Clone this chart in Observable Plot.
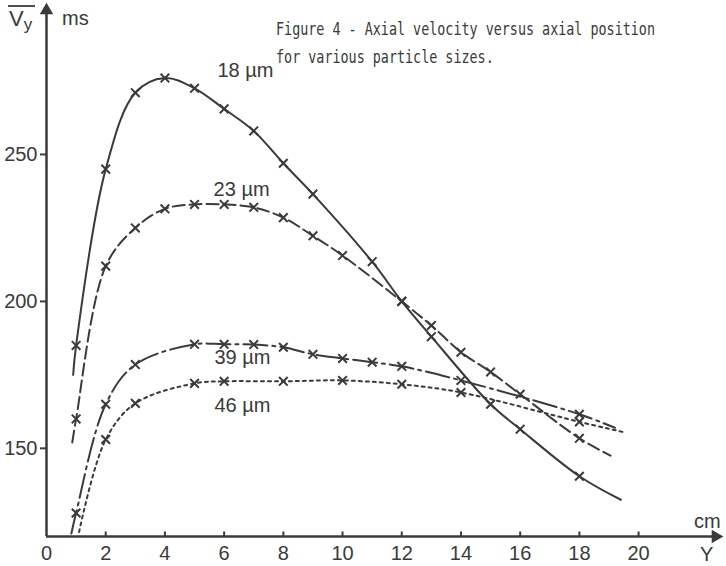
<!DOCTYPE html>
<html><head><meta charset="utf-8">
<script src="https://cdn.jsdelivr.net/npm/d3@7"></script>
<script src="https://cdn.jsdelivr.net/npm/@observablehq/plot@0.6"></script>
<style>body{margin:0;background:#fff}</style>
</head><body><div id="chart"></div>
<script>
// ---- data ----
const sizes = ["18 µm", "23 µm", "39 µm", "46 µm"];

const x18 = [1, 2, 3, 4, 5, 6, 7, 8, 9, 11, 12, 13, 15, 16, 18];
const v18 = [185, 245, 271, 276, 272.5, 265.5, 258, 247, 236.5, 213.5, 200, 188, 165, 156.5, 140.5];
const start18 = [0.9, 175], end18 = [19.4, 132.5];

const x23 = [1, 2, 3, 4, 5, 6, 7, 8, 9, 10, 12, 13, 14, 15, 16, 18];
const v23 = [160, 212, 225, 231.5, 233, 233, 232, 228.5, 222.3, 215.6, 200, 191.8, 182.7, 176, 168.4, 153.4];
const start23 = [0.87, 152], end23 = [19.05, 147.5];

const x39 = [1, 2, 3, 5, 6, 7, 8, 9, 10, 11, 12, 14, 18];
const v39 = [128, 165, 178.5, 185.4, 185.4, 185.3, 184.4, 182, 180.6, 179.3, 177.9, 173.1, 161.6];
const start39 = [0.84, 121], end39 = [19.2, 157];

const x46 = [2, 3, 5, 6, 8, 10, 12, 14, 18];
const v46 = [153, 165.3, 172.1, 172.8, 172.8, 173.1, 171.8, 169, 159];
const start46 = [1.1, 121.5], end46 = [19.5, 155.5];

const labelX = [6.72, 6.59, 6.62, 6.62];
const labelV = [278.5, 238.1, 180.8, 164.6];

const xTicks = [0, 2, 4, 6, 8, 10, 12, 14, 16, 18, 20];
const yTicks = [150, 200, 250];
const titleLines = ["Figure 4 - Axial velocity versus axial position", "for various particle sizes."];

// ---- styles ----
const ink = "#3a3a3a";
const dashes = [null, "12,5", "24,5,3,5", "3,4"];

const series = [
  {xs: x18, vs: v18, start: start18, end: end18},
  {xs: x23, vs: v23, start: start23, end: end23},
  {xs: x39, vs: v39, start: start39, end: end39},
  {xs: x46, vs: v46, start: start46, end: end46}
].map((s, i) => ({...s, label: sizes[i], dash: dashes[i]}));

const linePts = s => [{x: s.start[0], v: s.start[1]}, ...s.xs.map((x, i) => ({x, v: s.vs[i]})), {x: s.end[0], v: s.end[1]}];
const markPts = s => s.xs.map((x, i) => ({x, v: s.vs[i]}));
const labels = sizes.map((t, i) => ({t, x: labelX[i], v: labelV[i]}));

const tickUp = {draw(ctx) { ctx.moveTo(0, 0); ctx.lineTo(0, -5); }};

const marks = [];
// axes lines + arrowheads
marks.push(Plot.ruleY([120], {x1: 0, x2: 22.55, stroke: ink, strokeWidth: 2.5}));
marks.push(Plot.ruleX([0], {y1: 120, y2: 298.5, stroke: ink, strokeWidth: 2.5}));
marks.push(Plot.dot([0], {x: 0, y: 299, symbol: "triangle", r: 5, fill: ink, stroke: null}));
marks.push(Plot.dot([0], {x: 22.6, y: 120, symbol: "triangle", r: 5, rotate: 90, fill: ink, stroke: null}));
marks.push(Plot.dot(xTicks.filter(d => d > 0), {x: d => d, y: 120, symbol: tickUp, stroke: ink, strokeWidth: 2, fill: "none"}));
marks.push(Plot.axisY({ticks: yTicks, tickSize: 6, tickPadding: 3, fontSize: 20, stroke: ink, strokeWidth: 2, tickFormat: d => d, label: null}));
marks.push(Plot.axisX({ticks: xTicks, tickSize: 0, tickPadding: 9, fontSize: 20, tickFormat: d => d, label: null}));
// series
for (const s of series) {
  marks.push(Plot.line(linePts(s), {x: "x", y: "v", curve: "catmull-rom", stroke: ink, strokeWidth: 2, strokeDasharray: s.dash || undefined}));
  marks.push(Plot.dot(markPts(s), {x: "x", y: "v", symbol: "times", r: 4, stroke: ink, strokeWidth: 2}));
}
marks.push(Plot.text(labels, {x: "x", y: "v", text: "t", fontSize: 20, fill: ink}));

const plot = Plot.plot({
  width: 726, height: 566,
  marginLeft: 46, marginRight: 5, marginTop: 7, marginBottom: 30,
  x: {domain: [0, 22.8], label: null},
  y: {domain: [120, 300], label: null},
  style: {fontFamily: "Liberation Sans, Arial, sans-serif", color: ink, background: "#fff"},
  marks
});
document.getElementById("chart").appendChild(plot);

// extra annotations
const svg = d3.select(plot);
const font = "Liberation Sans, Arial, sans-serif";
const addText = (x, y, size, txt, family = font) =>
  svg.append("text").attr("x", x).attr("y", y).attr("font-size", size).attr("fill", ink)
    .attr("font-family", family).attr("text-anchor", "start").text(txt);
// typewriter title: condensed mono, stretched vertically
titleLines.forEach((line, i) => {
  svg.append("text").attr("transform", `translate(276,${35 + 28 * i}) scale(1,1.3)`)
    .attr("font-family", "DejaVu Sans Mono, monospace").attr("font-size", 13.4)
    .attr("fill", ink).attr("text-anchor", "start").text(line);
});
// V̄y label
const vy = svg.append("text").attr("x", 9).attr("y", 26).attr("font-size", 22).attr("fill", ink)
  .attr("font-family", font).attr("text-anchor", "start");
vy.append("tspan").text("V");
vy.append("tspan").attr("font-size", 17).attr("dy", 4).text("y");
svg.append("line").attr("x1", 8).attr("x2", 35).attr("y1", 6).attr("y2", 6).attr("stroke", ink).attr("stroke-width", 1.8);
addText(62, 25, 20, "ms");
addText(694, 528, 20, "cm");
addText(700, 561, 20, "Y");
</script>
</body></html>
